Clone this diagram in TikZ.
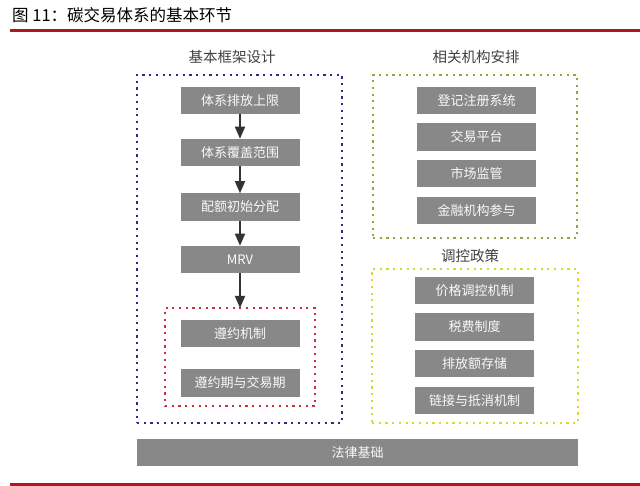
\documentclass[tikz,border=0pt]{standalone}
\usepackage{fontspec}
\setmainfont{Noto Sans CJK SC}
\usetikzlibrary{arrows.meta}
\definecolor{boxgray}{HTML}{888888}
\definecolor{titlered}{HTML}{B01820}
\definecolor{framblue}{HTML}{2A2A8C}
\definecolor{framred}{HTML}{C8323A}
\definecolor{framgreen}{HTML}{86AC3C}
\definecolor{framyellow}{HTML}{D6D838}
\definecolor{arrgray}{HTML}{333333}
\begin{document}
\begin{tikzpicture}[x=1pt,y=-1pt,
  graybox/.style={fill=boxgray,text=white!95!gray,minimum width=119pt,minimum height=27.5pt,
    inner sep=0pt,outer sep=0pt,font=\fontsize{13}{15}\selectfont},
  dotframe/.style={draw=#1,line width=2.2pt,dash pattern=on 2.2pt off 4.5pt,inner sep=0pt,outer sep=0pt},
  heading/.style={text=black!75,font=\fontsize{14.5}{17}\selectfont},
  arr/.style={draw=arrgray,line width=1.7pt,-{Triangle[width=10pt,length=12pt]}}]
\useasboundingbox (0,0) rectangle (640,486);

% title and rules
\node[anchor=west,inner sep=0pt,font=\fontsize{16.5}{18}\selectfont] (title) at (12,15) {图 11：碳交易体系的基本环节};
\draw[titlered,line width=3pt] (10,31) -- (640,31);
\draw[titlered,line width=3pt] (10,484.5) -- (640,484.5);

% frames
\node[dotframe=framblue,minimum width=205pt,minimum height=348pt] (design) at (239.5,249) {};
\node[dotframe=framred,minimum width=150pt,minimum height=98pt] (comply) at (240,357) {};
\node[dotframe=framgreen,minimum width=204pt,minimum height=163pt] (inst) at (475,156.5) {};
\node[dotframe=framyellow,minimum width=206pt,minimum height=154pt] (policy) at (475,346) {};

% headings
\node[heading] (hdesign) at (232,57) {基本框架设计};
\node[heading] (hinst) at (476,57) {相关机构安排};
\node[heading] (hpolicy) at (470,256) {调控政策};

% left column
\node[graybox] (cap) at (240,100.5) {体系排放上限};
\node[graybox] (scope) at (240,152.5) {体系覆盖范围};
\node[graybox] (alloc) at (240,207) {配额初始分配};
\node[graybox] (mrv) at (240,259.5) {MRV};
\node[graybox] (mech) at (240,333.5) {遵约机制};
\node[graybox] (period) at (240,383) {遵约期与交易期};

\foreach \A/\B in {cap/scope,scope/alloc,alloc/mrv}
  \draw[arr] (\A) -- (\B);
\draw[arr] (mrv) -- (comply.north);

% right column
\node[graybox] (reg) at (476.5,100.5) {登记注册系统};
\node[graybox] (plat) at (476.5,137) {交易平台};
\node[graybox] (sup) at (476.5,173.5) {市场监管};
\node[graybox] (fin) at (476.5,210.5) {金融机构参与};

\node[graybox] (price) at (474.5,290.5) {价格调控机制};
\node[graybox] (tax) at (474.5,327) {税费制度};
\node[graybox] (bank) at (474.5,363.5) {排放额存储};
\node[graybox] (link) at (474.5,400.5) {链接与抵消机制};

% base
\node[graybox,minimum width=441pt,minimum height=27pt] (law) at (357.5,452.5) {法律基础};
\end{tikzpicture}
\end{document}
